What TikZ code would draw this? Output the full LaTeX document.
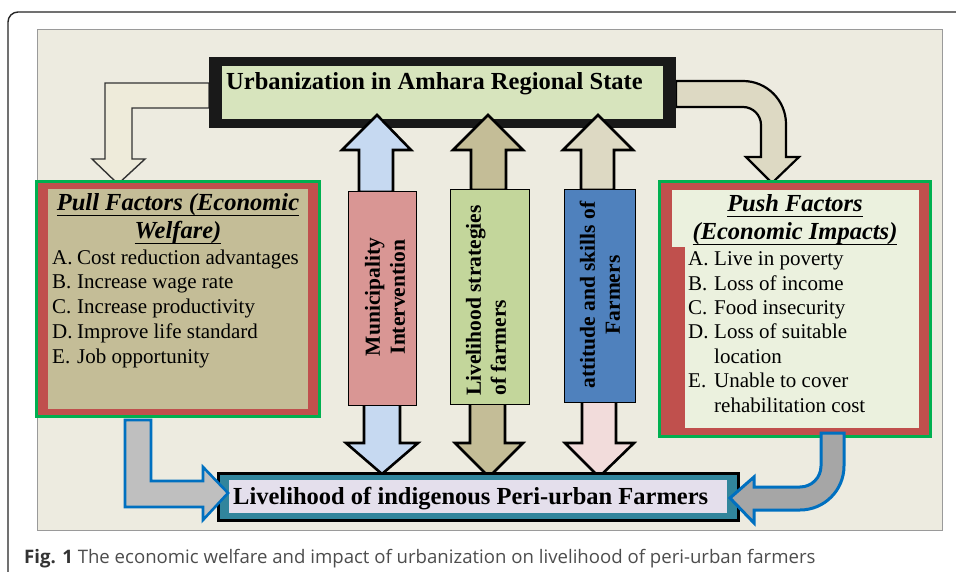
\documentclass[tikz,border=0pt]{standalone}
\usepackage{fontspec}
\setmainfont{Liberation Serif}
\newfontfamily\capfont{Open Sans}
\definecolor{panelbg}{HTML}{EDEBE0}
\definecolor{panelln}{HTML}{9A9A9A}
\definecolor{topfill}{HTML}{D7E4BD}
\definecolor{creamarrow}{HTML}{EEEBDA}
\definecolor{tanarrow}{HTML}{DDD9C3}
\definecolor{khaki}{HTML}{C4BD97}
\definecolor{lblue}{HTML}{C6D9F1}
\definecolor{lpink}{HTML}{F2DCDB}
\definecolor{colred}{HTML}{D99694}
\definecolor{colgreen}{HTML}{C3D69B}
\definecolor{colblue}{HTML}{4F81BD}
\definecolor{bandred}{HTML}{C0504D}
\definecolor{bandgreen}{HTML}{00B050}
\definecolor{pushfill}{HTML}{EBF1DE}
\definecolor{teal}{HTML}{31859C}
\definecolor{lavender}{HTML}{E4DFEC}
\definecolor{arrowblue}{HTML}{0070C0}
\definecolor{gray1}{HTML}{BFBFBF}
\definecolor{gray2}{HTML}{A6A6A6}
\definecolor{capgray}{HTML}{4D4D4D}
\newcommand\myul[1]{\setbox0\hbox{#1}\rlap{\rule[-5.5pt]{\wd0}{1.8pt}}\box0}
\tikzset{
  bigtitle/.style={font=\bfseries\fontsize{24.5}{28}\selectfont, inner sep=0},
  subtitle/.style={font=\bfseries\itshape\fontsize{24.5}{28}\selectfont, inner sep=0, align=center},
  itemlist/.style={font=\fontsize{21}{24.75}\selectfont, inner sep=0, align=left},
  vtext/.style={rotate=90, font=\bfseries\fontsize{21.5}{25}\selectfont, inner sep=0},
  colbox/.style={draw=black, line width=0.9pt},
  blockarrow/.style={draw=black, line width=2.6pt, line join=miter},
  bluearrow/.style={draw=arrowblue, line width=2.6pt, line join=miter},
}
\begin{document}
\begin{tikzpicture}[x=1pt,y=-1pt]
\useasboundingbox (0,0) rectangle (956,572);
\begin{scope}
\clip (0,0) rectangle (956,572);
\fill[white] (0,0) rectangle (956,572);
\draw[line width=1.4pt, color=black!85, rounded corners=10pt] (8,12) rectangle (990,600);
\end{scope}
% panel
\draw[fill=panelbg, draw=panelln, line width=0.8pt] (37,29) rectangle (942,530);

% left bent arrow (top box -> pull)
\draw[fill=creamarrow, draw=black!80, line width=1.4pt, line join=miter]
  (209,83) -- (105,83) -- (105,159) -- (92,159) -- (118,184) -- (145,159) -- (132,159) -- (132,108) -- (209,108) -- cycle;
% right curved arrow (top box -> push)
\draw[fill=tanarrow, draw=black, line width=2.2pt, line join=miter]
  (676,81) -- (743,81) .. controls (766.7,81) and (786,100.3) .. (786,124) -- (786,157) -- (799,157) -- (772,183) -- (746,157) -- (761,157) -- (761,125) .. controls (761,115.1) and (752.9,107) .. (743,107) -- (676,107) -- cycle;

% top box
\fill[black!90] (209,57) rectangle (676,128);
\fill[topfill] (222,66) rectangle (663,119);
\node[bigtitle, anchor=base west] (urb) at (226,90) {Urbanization in Amhara Regional State};

% up arrows
\draw[blockarrow, fill=lblue] (359,192) -- (359,150) -- (342,150) -- (377,115) -- (411,150) -- (393,150) -- (393,192) -- cycle;
\draw[blockarrow, fill=khaki] (471,190) -- (471,150) -- (453,150) -- (488,115) -- (523,150) -- (506,150) -- (506,190) -- cycle;
\draw[blockarrow, fill=tanarrow] (581,190) -- (581,150) -- (563,150) -- (598,115) -- (633,150) -- (614,150) -- (614,190) -- cycle;
% down arrows
\draw[blockarrow, fill=lblue] (364,404) -- (364,443) -- (346,443) -- (382,474) -- (418,443) -- (400,443) -- (400,404) -- cycle;
\draw[blockarrow, fill=khaki] (470,403) -- (470,443) -- (455,443) -- (489,477) -- (523,443) -- (505,443) -- (505,403) -- cycle;
\draw[blockarrow, fill=lpink] (582,401) -- (582,443) -- (565,443) -- (599,477) -- (634,443) -- (616,443) -- (616,401) -- cycle;

% columns
\draw[colbox, fill=colred] (348,191) rectangle (416,405);
\draw[colbox, fill=colgreen] (450,189) rectangle (529,404);
\draw[colbox, fill=colblue] (564,189) rectangle (635,402);
\node[vtext, align=center] (muni) at (385,297) {Municipality\\Intervention};
\node[vtext, align=left] (lstrat) at (486,300.5) {Livelihood strategies\\of farmers};
\node[vtext, align=center] (att) at (600,295) {attitude and skills of\\Farmers};

% pull box
\fill[bandgreen] (35,180) rectangle (321,418);
\fill[bandred] (38,183) rectangle (318,415);
\fill[khaki] (48,189) rectangle (308,409);
\node[subtitle, anchor=base] (pullt) at (178,239) {\myul{Pull Factors (Economic}\\\myul{Welfare)}};
\node[itemlist, anchor=base west] (pulli) at (52,363) {%
\makebox[25pt][l]{A.}Cost reduction advantages\\
\makebox[25pt][l]{B.}Increase wage rate\\
\makebox[25pt][l]{C.}Increase productivity\\
\makebox[25pt][l]{D.}Improve life standard\\
\makebox[25pt][l]{E.}Job opportunity};

% push box
\fill[bandgreen] (658,180) rectangle (932,438);
\fill[bandred] (661,183) rectangle (929,435);
\fill[pushfill] (685,190) rectangle (919,428);
\fill[pushfill] (672,190) rectangle (686,247);
\node[subtitle, anchor=base] (pusht) at (795,240) {\myul{Push Factors}\\\myul{(Economic Impacts)}};
\node[itemlist, anchor=base west, font=\fontsize{21}{24.35}\selectfont] (pushi) at (688,412) {%
\makebox[26pt][l]{A.}Live in poverty\\
\makebox[26pt][l]{B.}Loss of income\\
\makebox[26pt][l]{C.}Food insecurity\\
\makebox[26pt][l]{D.}Loss of suitable\\
\makebox[26pt][l]{}location\\
\makebox[26pt][l]{E.}Unable to cover\\
\makebox[26pt][l]{}rehabilitation cost};

% bottom box
\fill[black] (217,472) rectangle (740,522);
\fill[teal] (220,475) rectangle (737,519);
\fill[lavender] (229,480) rectangle (727,513);
\node[bigtitle, anchor=base west] (live) at (233,504) {Livelihood of indigenous Peri-urban Farmers};

% bottom arrows
\draw[bluearrow, fill=gray1] (125,420) -- (125,507) -- (203,507) -- (203,520) -- (228,493) -- (203,467) -- (203,481) -- (151,481) -- (151,420) -- cycle;
\draw[bluearrow, line width=3pt, fill=gray2]
  (821,433) -- (821,466) .. controls (821,477.6) and (811.6,487) .. (800,487) -- (754,487) -- (754,477) -- (730,498) -- (754,523) -- (754,510) -- (800,510) .. controls (824.3,510) and (844,490.3) .. (844,466) -- (844,433) -- cycle;

% caption
\node[anchor=base west, inner sep=0, font=\capfont\fontsize{18.6}{20}\selectfont, text=capgray] (cap) at (24,563) {{\bfseries\color{black!80}Fig. 1} The economic welfare and impact of urbanization on livelihood of peri-urban farmers};
\end{tikzpicture}
\end{document}
